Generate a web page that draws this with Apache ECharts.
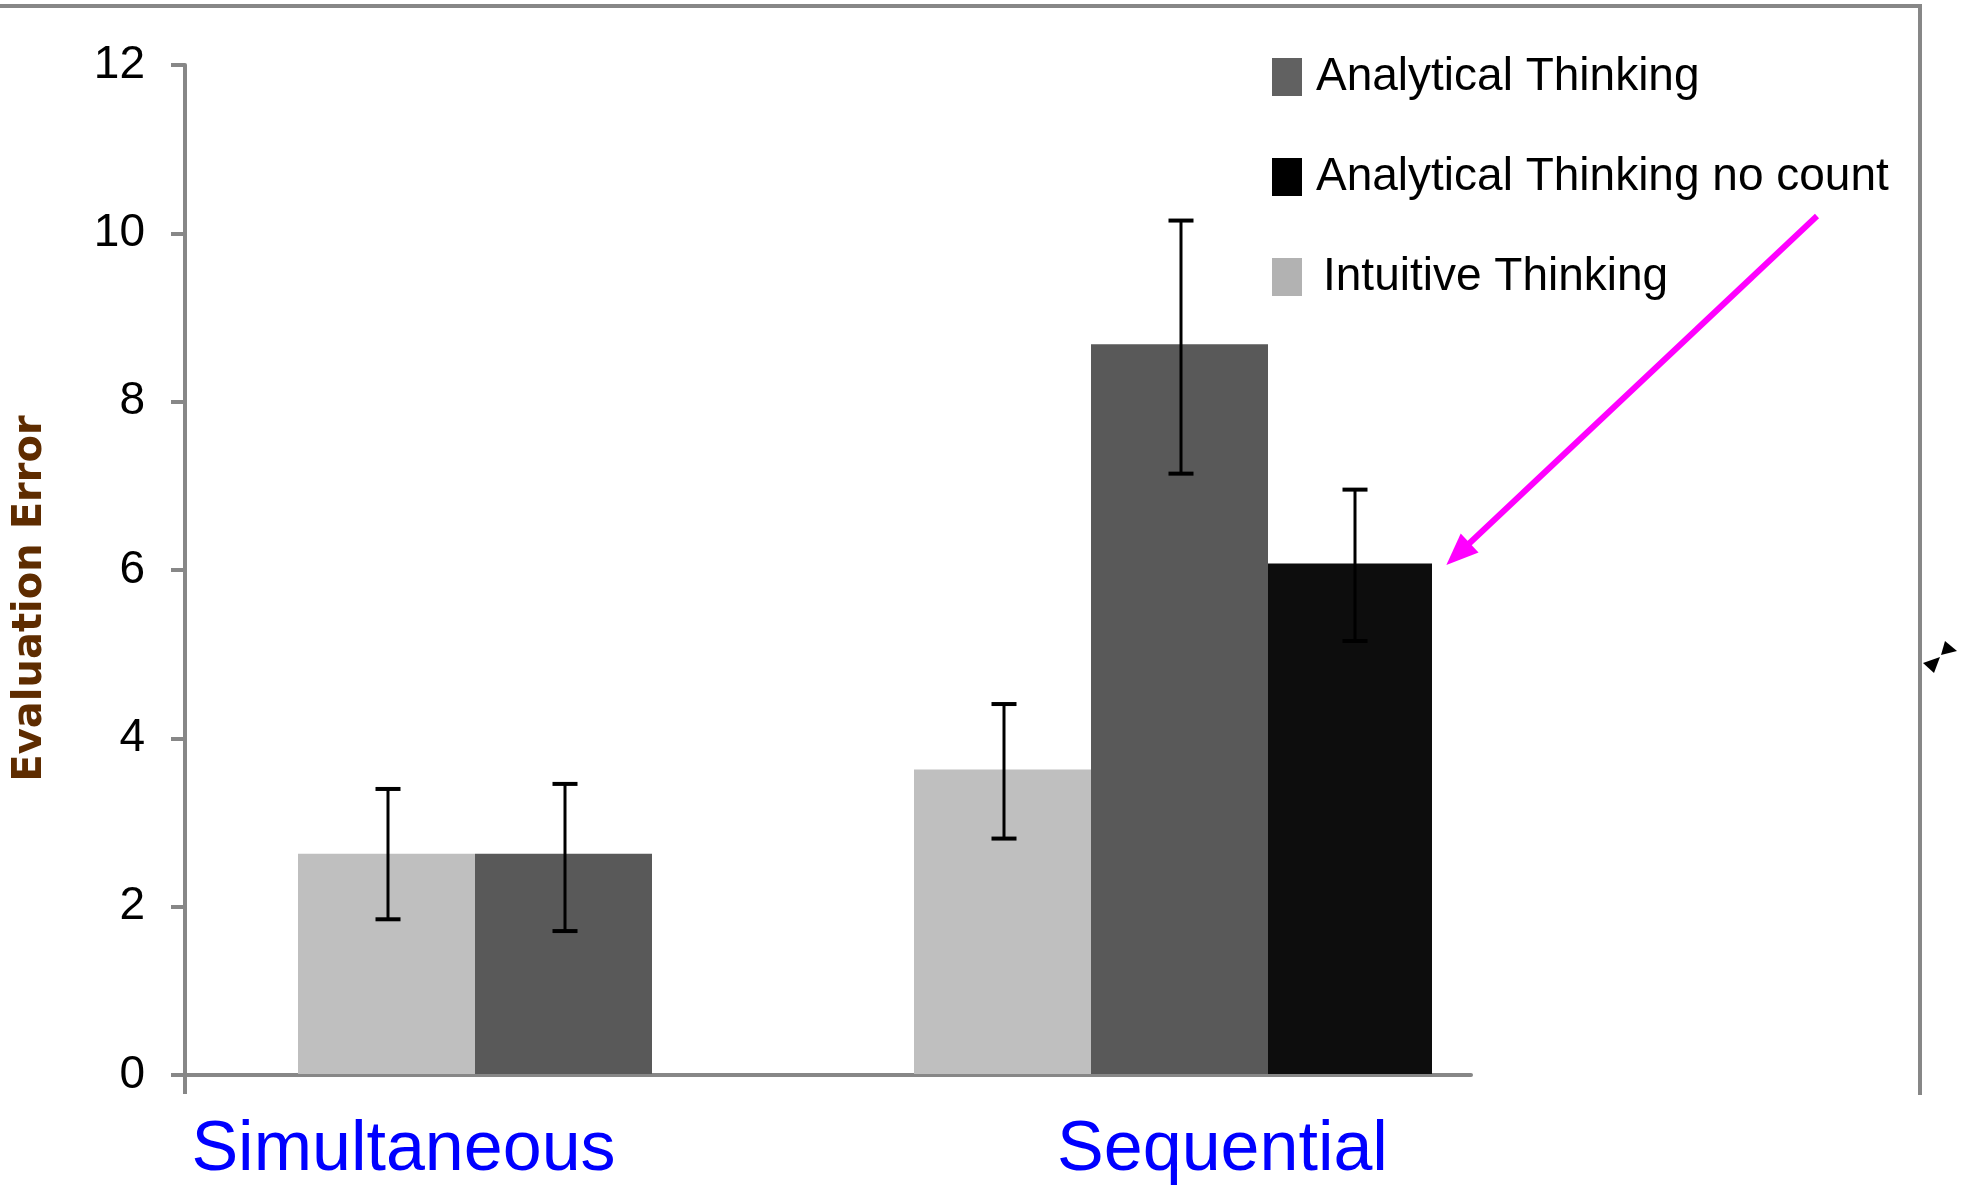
<!DOCTYPE html>
<html><head><meta charset="utf-8">
<script src="https://cdn.jsdelivr.net/npm/echarts@6/dist/echarts.min.js"></script>
<style>html,body{margin:0;padding:0;background:#fff;overflow:hidden}#c{width:1961px;height:1186px}</style>
</head><body><div id="c"></div>
<script>
// ---- data ----
const categories = ['Simultaneous', 'Sequential'];
const seriesNames = ['Intuitive Thinking', 'Analytical Thinking', 'Analytical Thinking no count'];
const intuitive = [2.62, 3.62];
const analytical = [2.62, 8.68];
const analyticalNoCount = [null, 6.07];
const intuitiveErrLow = [1.84, 2.80];
const intuitiveErrHigh = [3.39, 4.40];
const analyticalErrLow = [1.70, 7.14];
const analyticalErrHigh = [3.45, 10.15];
const noCountErrLow = [null, 5.15];
const noCountErrHigh = [null, 6.95];
const yTicks = [0, 2, 4, 6, 8, 10, 12];
const legendOrder = ['Analytical Thinking', 'Analytical Thinking no count', 'Intuitive Thinking'];

// ---- layout / style constants ----
const BAR_W = 177, NC_W = 164;
const ERR_DX = [-169, 8, 182];
const CAP_W = 25;
const AXIS_GRAY = '#878787';
const barColors = ['#BFBFBF', '#595959', '#0D0D0D'];
const legendColors = {'Analytical Thinking': '#616161', 'Analytical Thinking no count': '#000000', 'Intuitive Thinking': '#B2B2B2'};
const legendPad = {'Analytical Thinking': 9, 'Analytical Thinking no count': 9, 'Intuitive Thinking': 16};
const labelPads = [[0, 307, 0, 0], [0, 0, 0, 99]];
const SANS = "'Liberation Sans', Arial, sans-serif";

const errLows = [intuitiveErrLow, analyticalErrLow, noCountErrLow];
const errHighs = [intuitiveErrHigh, analyticalErrHigh, noCountErrHigh];
const errData = [];
for (let s = 0; s < 3; s++) {
  for (let c = 0; c < categories.length; c++) {
    if (errLows[s][c] != null) errData.push([c, errLows[s][c], errHighs[s][c], s]);
  }
}

const chart = echarts.init(document.getElementById('c'), null, {renderer: 'canvas'});
const option = {
  animation: false,
  backgroundColor: '#ffffff',
  grid: [
    {left: 185, top: 65, width: 1286, bottom: 111},
    {left: 249, top: 65, width: 1232, bottom: 111}
  ],
  legend: {
    orient: 'vertical', left: 1272, top: 54, padding: 0,
    itemWidth: 30, itemHeight: 38, itemGap: 54, icon: 'rect',
    selectedMode: false,
    data: legendOrder.map(n => ({name: n, itemStyle: {color: legendColors[n]}, textStyle: {padding: [0, 0, 0, legendPad[n]]}})),
    textStyle: {fontFamily: SANS, fontSize: 46, color: '#000'}
  },
  xAxis: [
    {
      gridIndex: 0, type: 'value', min: 0, max: 1,
      axisLine: {show: true, lineStyle: {color: AXIS_GRAY, width: 4}},
      axisTick: {show: true, length: 19, customValues: [0], lineStyle: {color: AXIS_GRAY, width: 4}},
      axisLabel: {show: false}, splitLine: {show: false}
    },
    {
      gridIndex: 1, type: 'category',
      data: categories.map((c, i) => ({value: c, textStyle: {padding: labelPads[i]}})),
      axisLine: {show: false}, axisTick: {show: false},
      axisLabel: {show: true, interval: 0, margin: 42, fontFamily: SANS, fontSize: 70, color: '#0000FF'},
      splitLine: {show: false}
    }
  ],
  yAxis: [
    {
      gridIndex: 0, type: 'value', min: yTicks[0], max: yTicks[yTicks.length - 1], interval: 2,
      axisLine: {show: true, lineStyle: {color: AXIS_GRAY, width: 4}},
      axisTick: {show: true, length: 14, lineStyle: {color: AXIS_GRAY, width: 4}},
      axisLabel: {margin: 40, fontFamily: SANS, fontSize: 46, color: '#000'},
      splitLine: {show: false},
      name: 'Evaluation Error', nameLocation: 'middle', nameGap: 134,
      nameTextStyle: {fontFamily: "'DejaVu Sans', sans-serif", fontWeight: 'bold', fontSize: 40, color: '#5E2C00', padding: [0, 57, 0, 0]}
    },
    {gridIndex: 1, type: 'value', min: yTicks[0], max: yTicks[yTicks.length - 1], show: false}
  ],
  series: [
    {name: seriesNames[0], type: 'bar', xAxisIndex: 1, yAxisIndex: 1, data: intuitive, barWidth: BAR_W, barGap: '0%', itemStyle: {color: barColors[0]}},
    {name: seriesNames[1], type: 'bar', xAxisIndex: 1, yAxisIndex: 1, data: analytical, barWidth: BAR_W, barGap: '0%', itemStyle: {color: barColors[1]}},
    {name: seriesNames[2], type: 'bar', xAxisIndex: 1, yAxisIndex: 1, data: analyticalNoCount, barWidth: NC_W, barGap: '0%', itemStyle: {color: barColors[2]},
      markLine: {
        silent: true, symbol: ['none', 'triangle'], symbolSize: [26, 32],
        label: {show: false},
        lineStyle: {color: '#FF00FF', width: 6, type: 'solid'},
        data: [[{x: 1817, y: 216}, {x: 1458, y: 554}]]
      }
    },
    {
      name: 'errors', type: 'custom', xAxisIndex: 1, yAxisIndex: 1, z: 5,
      data: errData,
      encode: {x: 0, y: [1, 2]},
      renderItem: function (params, api) {
        const c = api.value(0), lo = api.value(1), hi = api.value(2), s = api.value(3);
        const x = api.coord([c, 0])[0] + ERR_DX[s];
        const yl = api.coord([c, lo])[1], yh = api.coord([c, hi])[1];
        const hw = CAP_W / 2;
        return {type: 'group', children: [
          {type: 'line', shape: {x1: x, y1: yh, x2: x, y2: yl}, style: {stroke: '#000', lineWidth: 3}},
          {type: 'line', shape: {x1: x - hw, y1: yh, x2: x + hw, y2: yh}, style: {stroke: '#000', lineWidth: 4}},
          {type: 'line', shape: {x1: x - hw, y1: yl, x2: x + hw, y2: yl}, style: {stroke: '#000', lineWidth: 4}}
        ]};
      }
    }
  ],
  graphic: [
    {type: 'polyline', shape: {points: [[0, 6], [1920, 6], [1920, 1095]]}, style: {stroke: AXIS_GRAY, lineWidth: 4, fill: null}},
    {type: 'polygon', shape: {points: [[1941, 655], [1945, 641], [1957, 651]]}, style: {fill: '#000'}},
    {type: 'polygon', shape: {points: [[1940, 657], [1923, 663], [1934, 673]]}, style: {fill: '#000'}}
  ]
};
chart.setOption(option);
</script>
</body></html>
